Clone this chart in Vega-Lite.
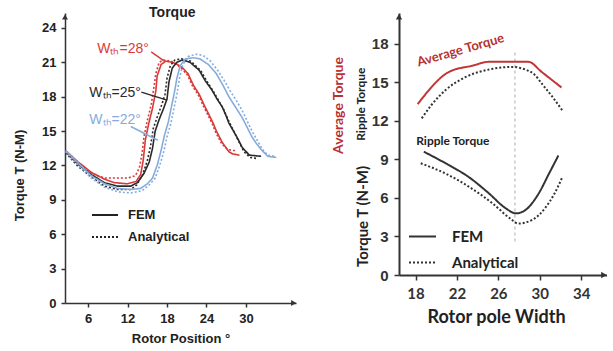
{
  "$schema": "https://vega.github.io/schema/vega-lite/v6.json",
  "padding": {"left": 13, "top": 6, "right": 0, "bottom": 0},
  "background": "white",
  "config": {"view": {"stroke": null}, "axis": {"grid": false, "labelOverlap": false}},
  "spacing": 103,
  "bounds": "flush",
  "resolve": {"scale": {"color": "independent", "strokeDash": "independent"}},
  "datasets": {
    "left": [
      {"x":2.6,"y":13.3,"w":"28","m":"FEM"},{"x":4.5,"y":12.3,"w":"28","m":"FEM"},{"x":6.5,"y":11.4,"w":"28","m":"FEM"},{"x":8.5,"y":10.8,"w":"28","m":"FEM"},{"x":10,"y":10.5,"w":"28","m":"FEM"},{"x":12,"y":10.4,"w":"28","m":"FEM"},{"x":13.3,"y":10.6,"w":"28","m":"FEM"},{"x":14.0,"y":11.2,"w":"28","m":"FEM"},{"x":14.4,"y":12.5,"w":"28","m":"FEM"},{"x":14.7,"y":14.2,"w":"28","m":"FEM"},{"x":15.2,"y":15.6,"w":"28","m":"FEM"},{"x":15.8,"y":17.0,"w":"28","m":"FEM"},{"x":16.3,"y":18.5,"w":"28","m":"FEM"},{"x":16.5,"y":19.8,"w":"28","m":"FEM"},{"x":17.1,"y":20.8,"w":"28","m":"FEM"},{"x":17.8,"y":21.1,"w":"28","m":"FEM"},{"x":18.8,"y":21.0,"w":"28","m":"FEM"},{"x":19.6,"y":20.8,"w":"28","m":"FEM"},{"x":20.4,"y":20.5,"w":"28","m":"FEM"},{"x":21.2,"y":20.0,"w":"28","m":"FEM"},{"x":22.0,"y":19.0,"w":"28","m":"FEM"},{"x":22.9,"y":18.2,"w":"28","m":"FEM"},{"x":23.7,"y":17.2,"w":"28","m":"FEM"},{"x":24.4,"y":16.4,"w":"28","m":"FEM"},{"x":25.0,"y":15.7,"w":"28","m":"FEM"},{"x":25.5,"y":15.0,"w":"28","m":"FEM"},{"x":26.4,"y":14.0,"w":"28","m":"FEM"},{"x":27.4,"y":13.2,"w":"28","m":"FEM"},{"x":28.0,"y":13.0,"w":"28","m":"FEM"},{"x":29.0,"y":12.9,"w":"28","m":"FEM"},
      {"x":2.6,"y":13.2,"w":"28","m":"Analytical"},{"x":4.5,"y":12.2,"w":"28","m":"Analytical"},{"x":6.5,"y":11.3,"w":"28","m":"Analytical"},{"x":8.5,"y":10.9,"w":"28","m":"Analytical"},{"x":10,"y":10.9,"w":"28","m":"Analytical"},{"x":12,"y":10.9,"w":"28","m":"Analytical"},{"x":13.2,"y":11.1,"w":"28","m":"Analytical"},{"x":13.8,"y":11.8,"w":"28","m":"Analytical"},{"x":14.2,"y":13.0,"w":"28","m":"Analytical"},{"x":14.5,"y":14.5,"w":"28","m":"Analytical"},{"x":15.0,"y":15.9,"w":"28","m":"Analytical"},{"x":15.6,"y":17.3,"w":"28","m":"Analytical"},{"x":16.0,"y":18.8,"w":"28","m":"Analytical"},{"x":16.3,"y":20.0,"w":"28","m":"Analytical"},{"x":16.8,"y":21.0,"w":"28","m":"Analytical"},{"x":17.5,"y":21.2,"w":"28","m":"Analytical"},{"x":18.6,"y":21.1,"w":"28","m":"Analytical"},{"x":19.5,"y":20.8,"w":"28","m":"Analytical"},{"x":20.3,"y":20.4,"w":"28","m":"Analytical"},{"x":21.1,"y":19.9,"w":"28","m":"Analytical"},{"x":21.9,"y":18.9,"w":"28","m":"Analytical"},{"x":22.8,"y":18.1,"w":"28","m":"Analytical"},{"x":23.6,"y":17.1,"w":"28","m":"Analytical"},{"x":24.3,"y":16.3,"w":"28","m":"Analytical"},{"x":24.9,"y":15.6,"w":"28","m":"Analytical"},{"x":25.4,"y":14.9,"w":"28","m":"Analytical"},{"x":26.3,"y":13.9,"w":"28","m":"Analytical"},{"x":27.2,"y":13.4,"w":"28","m":"Analytical"},{"x":28.0,"y":13.3,"w":"28","m":"Analytical"},{"x":28.6,"y":13.3,"w":"28","m":"Analytical"},
      {"x":2.6,"y":13.2,"w":"25","m":"FEM"},{"x":4.5,"y":12.1,"w":"25","m":"FEM"},{"x":6.5,"y":11.2,"w":"25","m":"FEM"},{"x":8.5,"y":10.5,"w":"25","m":"FEM"},{"x":10.5,"y":10.2,"w":"25","m":"FEM"},{"x":12.5,"y":10.2,"w":"25","m":"FEM"},{"x":13.5,"y":10.5,"w":"25","m":"FEM"},{"x":14.5,"y":11.3,"w":"25","m":"FEM"},{"x":15.3,"y":12.3,"w":"25","m":"FEM"},{"x":15.8,"y":13.5,"w":"25","m":"FEM"},{"x":16.2,"y":15.0,"w":"25","m":"FEM"},{"x":16.8,"y":16.0,"w":"25","m":"FEM"},{"x":17.5,"y":17.0,"w":"25","m":"FEM"},{"x":18.0,"y":17.8,"w":"25","m":"FEM"},{"x":18.3,"y":19.3,"w":"25","m":"FEM"},{"x":18.8,"y":20.5,"w":"25","m":"FEM"},{"x":19.5,"y":21.0,"w":"25","m":"FEM"},{"x":20.3,"y":21.2,"w":"25","m":"FEM"},{"x":21.5,"y":21.0,"w":"25","m":"FEM"},{"x":22.9,"y":20.3,"w":"25","m":"FEM"},{"x":23.8,"y":19.4,"w":"25","m":"FEM"},{"x":24.8,"y":18.6,"w":"25","m":"FEM"},{"x":25.6,"y":17.8,"w":"25","m":"FEM"},{"x":26.4,"y":17.1,"w":"25","m":"FEM"},{"x":27.0,"y":16.3,"w":"25","m":"FEM"},{"x":27.4,"y":15.7,"w":"25","m":"FEM"},{"x":28.0,"y":15.1,"w":"25","m":"FEM"},{"x":28.6,"y":14.5,"w":"25","m":"FEM"},{"x":29.4,"y":13.6,"w":"25","m":"FEM"},{"x":30.5,"y":12.9,"w":"25","m":"FEM"},{"x":32.3,"y":12.8,"w":"25","m":"FEM"},
      {"x":2.6,"y":13.1,"w":"25","m":"Analytical"},{"x":4.5,"y":11.9,"w":"25","m":"Analytical"},{"x":6.5,"y":11.0,"w":"25","m":"Analytical"},{"x":8.5,"y":10.2,"w":"25","m":"Analytical"},{"x":10.5,"y":9.9,"w":"25","m":"Analytical"},{"x":12.5,"y":9.9,"w":"25","m":"Analytical"},{"x":13.4,"y":10.3,"w":"25","m":"Analytical"},{"x":14.3,"y":11.2,"w":"25","m":"Analytical"},{"x":15.0,"y":12.4,"w":"25","m":"Analytical"},{"x":15.5,"y":13.7,"w":"25","m":"Analytical"},{"x":15.9,"y":15.2,"w":"25","m":"Analytical"},{"x":16.5,"y":16.2,"w":"25","m":"Analytical"},{"x":17.2,"y":17.3,"w":"25","m":"Analytical"},{"x":17.7,"y":18.2,"w":"25","m":"Analytical"},{"x":18.0,"y":19.6,"w":"25","m":"Analytical"},{"x":18.5,"y":20.7,"w":"25","m":"Analytical"},{"x":19.2,"y":21.2,"w":"25","m":"Analytical"},{"x":20.2,"y":21.3,"w":"25","m":"Analytical"},{"x":21.6,"y":21.1,"w":"25","m":"Analytical"},{"x":23.1,"y":20.3,"w":"25","m":"Analytical"},{"x":24.0,"y":19.4,"w":"25","m":"Analytical"},{"x":25.0,"y":18.5,"w":"25","m":"Analytical"},{"x":25.8,"y":17.7,"w":"25","m":"Analytical"},{"x":26.6,"y":16.9,"w":"25","m":"Analytical"},{"x":27.2,"y":16.1,"w":"25","m":"Analytical"},{"x":27.7,"y":15.5,"w":"25","m":"Analytical"},{"x":28.3,"y":14.8,"w":"25","m":"Analytical"},{"x":28.9,"y":14.1,"w":"25","m":"Analytical"},{"x":29.7,"y":13.2,"w":"25","m":"Analytical"},{"x":30.6,"y":12.7,"w":"25","m":"Analytical"},{"x":31.7,"y":12.6,"w":"25","m":"Analytical"},
      {"x":2.6,"y":13.3,"w":"22","m":"FEM"},{"x":4.5,"y":12.2,"w":"22","m":"FEM"},{"x":6.5,"y":11.1,"w":"22","m":"FEM"},{"x":8.5,"y":10.4,"w":"22","m":"FEM"},{"x":10.5,"y":10.0,"w":"22","m":"FEM"},{"x":12.5,"y":9.9,"w":"22","m":"FEM"},{"x":14.0,"y":10.0,"w":"22","m":"FEM"},{"x":15.0,"y":10.4,"w":"22","m":"FEM"},{"x":15.8,"y":10.9,"w":"22","m":"FEM"},{"x":16.5,"y":12.0,"w":"22","m":"FEM"},{"x":17.1,"y":13.3,"w":"22","m":"FEM"},{"x":17.6,"y":14.6,"w":"22","m":"FEM"},{"x":18.2,"y":15.8,"w":"22","m":"FEM"},{"x":18.7,"y":17.2,"w":"22","m":"FEM"},{"x":19.1,"y":18.3,"w":"22","m":"FEM"},{"x":19.5,"y":19.6,"w":"22","m":"FEM"},{"x":20.0,"y":20.7,"w":"22","m":"FEM"},{"x":20.8,"y":21.3,"w":"22","m":"FEM"},{"x":22.0,"y":21.4,"w":"22","m":"FEM"},{"x":23.0,"y":21.3,"w":"22","m":"FEM"},{"x":24.3,"y":20.8,"w":"22","m":"FEM"},{"x":25.5,"y":20.0,"w":"22","m":"FEM"},{"x":26.5,"y":19.0,"w":"22","m":"FEM"},{"x":27.4,"y":18.0,"w":"22","m":"FEM"},{"x":28.4,"y":17.1,"w":"22","m":"FEM"},{"x":29.4,"y":16.2,"w":"22","m":"FEM"},{"x":30.2,"y":15.3,"w":"22","m":"FEM"},{"x":30.9,"y":14.5,"w":"22","m":"FEM"},{"x":31.6,"y":13.9,"w":"22","m":"FEM"},{"x":32.3,"y":13.4,"w":"22","m":"FEM"},{"x":33.3,"y":12.8,"w":"22","m":"FEM"},{"x":34.6,"y":12.7,"w":"22","m":"FEM"},
      {"x":2.6,"y":13.2,"w":"22","m":"Analytical"},{"x":4.5,"y":12.0,"w":"22","m":"Analytical"},{"x":6.5,"y":10.9,"w":"22","m":"Analytical"},{"x":8.5,"y":10.1,"w":"22","m":"Analytical"},{"x":10.5,"y":9.7,"w":"22","m":"Analytical"},{"x":12.5,"y":9.6,"w":"22","m":"Analytical"},{"x":14.2,"y":9.8,"w":"22","m":"Analytical"},{"x":15.3,"y":10.3,"w":"22","m":"Analytical"},{"x":16.2,"y":10.9,"w":"22","m":"Analytical"},{"x":16.9,"y":12.0,"w":"22","m":"Analytical"},{"x":17.5,"y":13.2,"w":"22","m":"Analytical"},{"x":18.0,"y":14.5,"w":"22","m":"Analytical"},{"x":18.6,"y":15.7,"w":"22","m":"Analytical"},{"x":19.1,"y":17.1,"w":"22","m":"Analytical"},{"x":19.5,"y":18.2,"w":"22","m":"Analytical"},{"x":19.9,"y":19.6,"w":"22","m":"Analytical"},{"x":20.4,"y":20.8,"w":"22","m":"Analytical"},{"x":21.2,"y":21.5,"w":"22","m":"Analytical"},{"x":22.5,"y":21.7,"w":"22","m":"Analytical"},{"x":23.5,"y":21.6,"w":"22","m":"Analytical"},{"x":24.6,"y":21.1,"w":"22","m":"Analytical"},{"x":25.7,"y":20.3,"w":"22","m":"Analytical"},{"x":26.7,"y":19.4,"w":"22","m":"Analytical"},{"x":27.6,"y":18.5,"w":"22","m":"Analytical"},{"x":28.6,"y":17.6,"w":"22","m":"Analytical"},{"x":29.6,"y":16.6,"w":"22","m":"Analytical"},{"x":30.4,"y":15.6,"w":"22","m":"Analytical"},{"x":31.1,"y":14.8,"w":"22","m":"Analytical"},{"x":31.8,"y":14.1,"w":"22","m":"Analytical"},{"x":32.5,"y":13.4,"w":"22","m":"Analytical"},{"x":33.3,"y":12.9,"w":"22","m":"Analytical"},{"x":34.3,"y":12.8,"w":"22","m":"Analytical"}
    ],
    "leftLabels": [
      {"x":7.4,"y":22.2,"label":"Wₜₕ=28°","w":"28","x2":15.6,"y2":21.9,"lx":17.6,"ly":21.1},
      {"x":6.2,"y":18.3,"label":"Wₜₕ=25°","w":"25","x2":14.1,"y2":18.4,"lx":18.0,"ly":17.7},
      {"x":6.2,"y":16.0,"label":"Wₜₕ=22°","w":"22","x2":12.5,"y2":15.4,"lx":16.6,"ly":14.2}
    ],
    "leftTitle": [{"x":18.8,"y":25.3,"label":"Torque"}],
    "leftArrows": [{"x":2.5,"y":24.95,"dir":"up"},{"x":37.25,"y":0,"dir":"right"}],
    "right": [
      {"x":18.2,"y":13.3,"s":"avgFEM","m":"FEM"},{"x":21.2,"y":15.8,"s":"avgFEM","m":"FEM"},{"x":23.5,"y":16.3,"s":"avgFEM","m":"FEM"},{"x":25.1,"y":16.6,"s":"avgFEM","m":"FEM"},{"x":28.9,"y":16.6,"s":"avgFEM","m":"FEM"},{"x":30.2,"y":15.8,"s":"avgFEM","m":"FEM"},{"x":32.1,"y":14.6,"s":"avgFEM","m":"FEM"},
      {"x":18.6,"y":12.2,"s":"avgAna","m":"Analytical"},{"x":19.5,"y":13.2,"s":"avgAna","m":"Analytical"},{"x":20.9,"y":14.4,"s":"avgAna","m":"Analytical"},{"x":22.8,"y":15.4,"s":"avgAna","m":"Analytical"},{"x":25.1,"y":16.0,"s":"avgAna","m":"Analytical"},{"x":27.3,"y":16.2,"s":"avgAna","m":"Analytical"},{"x":28.6,"y":16.0,"s":"avgAna","m":"Analytical"},{"x":29.5,"y":15.6,"s":"avgAna","m":"Analytical"},{"x":30.2,"y":14.9,"s":"avgAna","m":"Analytical"},{"x":31.2,"y":13.9,"s":"avgAna","m":"Analytical"},{"x":32.2,"y":12.8,"s":"avgAna","m":"Analytical"},
      {"x":18.8,"y":9.6,"s":"ripFEM","m":"FEM"},{"x":20.9,"y":8.7,"s":"ripFEM","m":"FEM"},{"x":23.1,"y":7.65,"s":"ripFEM","m":"FEM"},{"x":25.1,"y":6.35,"s":"ripFEM","m":"FEM"},{"x":26.7,"y":5.2,"s":"ripFEM","m":"FEM"},{"x":27.7,"y":4.8,"s":"ripFEM","m":"FEM"},{"x":28.6,"y":5.05,"s":"ripFEM","m":"FEM"},{"x":29.9,"y":6.35,"s":"ripFEM","m":"FEM"},{"x":30.9,"y":7.9,"s":"ripFEM","m":"FEM"},{"x":31.8,"y":9.3,"s":"ripFEM","m":"FEM"},
      {"x":18.5,"y":8.7,"s":"ripAna","m":"Analytical"},{"x":20.9,"y":7.9,"s":"ripAna","m":"Analytical"},{"x":23.1,"y":6.9,"s":"ripAna","m":"Analytical"},{"x":25.4,"y":5.6,"s":"ripAna","m":"Analytical"},{"x":27.3,"y":4.3,"s":"ripAna","m":"Analytical"},{"x":27.9,"y":4.0,"s":"ripAna","m":"Analytical"},{"x":29.3,"y":4.3,"s":"ripAna","m":"Analytical"},{"x":30.6,"y":5.3,"s":"ripAna","m":"Analytical"},{"x":31.4,"y":6.3,"s":"ripAna","m":"Analytical"},{"x":32.2,"y":7.65,"s":"ripAna","m":"Analytical"}
    ],
    "rightVline": [{"x":27.6,"y":2.6,"y2":17.5}],
    "rightAvgLabel": [{"x":22.35,"y":17.5,"label":"Average Torque"}],
    "rightRipLabel": [{"x":21.6,"y":10.4,"label":"Ripple Torque"}],
    "rightSideAvg": [{"x":10.6,"y":13.2,"label":"Average Torque"}],
    "rightSideRip": [{"x":12.7,"y":13.3,"label":"Ripple Torque"}],
    "rightArrows": [{"x":16.4,"y":20.1,"dir":"up"},{"x":36.2,"y":0,"dir":"right"}]
  },
  "hconcat": [
    {
      "width": 231,
      "height": 290,
      "layer": [
        {
          "data": {"name": "left"},
          "mark": {"type": "line", "strokeWidth": 1.6},
          "encoding": {
            "x": {"field": "x", "type": "quantitative", "scale": {"domain": [2.5, 37.6], "nice": false, "zero": false},
              "axis": {"title": "Rotor Position °", "values": [6, 12, 18, 24, 30], "tickCount": 20, "labelOverlap": false, "domainColor": "#333", "domainWidth": 1.5, "tickColor": "#333", "tickWidth": 1.5, "tickSize": 4, "labelPadding": 5, "labelFont": "Liberation Sans", "labelFontSize": 13, "labelFontWeight": "bold", "labelColor": "#222", "titleFont": "Liberation Sans", "titleFontSize": 13, "titleFontWeight": "bold", "titleColor": "#222", "titlePadding": 7}},
            "y": {"field": "y", "type": "quantitative", "scale": {"domain": [0, 25.3], "nice": false, "zero": false},
              "axis": {"title": "Torque T (N-M)", "values": [0, 3, 6, 9, 12, 15, 18, 21, 24], "tickCount": 20, "labelOverlap": false, "domainColor": "#333", "domainWidth": 1.5, "tickColor": "#333", "tickWidth": 1.5, "tickSize": 4, "labelPadding": 5, "labelFont": "Liberation Sans", "labelFontSize": 13, "labelFontWeight": "bold", "labelColor": "#222", "titleFont": "Liberation Sans", "titleFontSize": 13, "titleFontWeight": "bold", "titleColor": "#222", "titleBaseline": "middle", "titleX": -46, "titleY": 162}},
            "color": {"field": "w", "type": "nominal", "scale": {"domain": ["28", "25", "22"], "range": ["#d83a3a", "#2a2a2a", "#86acdc"]}, "legend": null},
            "strokeDash": {"field": "m", "type": "nominal", "scale": {"domain": ["FEM", "Analytical"], "range": [[1, 0], [2, 2]]},
              "legend": {"title": null, "orient": "none", "legendX": 26, "legendY": 188, "symbolType": "stroke", "symbolSize": 676, "symbolStrokeWidth": 2, "symbolStrokeColor": "#222", "labelFont": "Liberation Sans", "labelFontSize": 13, "labelFontWeight": "bold", "labelColor": "#222", "labelOffset": 9, "rowPadding": 1}}
          }
        },
        {
          "data": {"name": "leftLabels"},
          "mark": {"type": "rule", "strokeWidth": 1.5},
          "encoding": {
            "x": {"field": "x2", "type": "quantitative"},
            "y": {"field": "y2", "type": "quantitative"},
            "x2": {"field": "lx"},
            "y2": {"field": "ly"},
            "color": {"field": "w", "type": "nominal", "legend": null}
          }
        },
        {
          "data": {"name": "leftLabels"},
          "mark": {"type": "text", "align": "left", "baseline": "middle", "font": "Liberation Sans", "fontSize": 14},
          "encoding": {
            "x": {"field": "x", "type": "quantitative"},
            "y": {"field": "y", "type": "quantitative"},
            "text": {"field": "label"},
            "color": {"field": "w", "type": "nominal", "legend": null}
          }
        },
        {
          "data": {"name": "leftTitle"},
          "mark": {"type": "text", "align": "center", "baseline": "middle", "font": "Liberation Sans", "fontSize": 14, "fontWeight": "bold", "color": "#222"},
          "encoding": {
            "x": {"field": "x", "type": "quantitative"},
            "y": {"field": "y", "type": "quantitative"},
            "text": {"field": "label"}
          }
        },
        {
          "data": {"name": "leftArrows"},
          "transform": [{"filter": "datum.dir === 'up'"}],
          "mark": {"type": "point", "shape": "triangle-up", "filled": true, "size": 35, "color": "#333", "opacity": 1},
          "encoding": {
            "x": {"field": "x", "type": "quantitative"},
            "y": {"field": "y", "type": "quantitative"}
          }
        },
        {
          "data": {"name": "leftArrows"},
          "transform": [{"filter": "datum.dir === 'right'"}],
          "mark": {"type": "point", "shape": "triangle-right", "filled": true, "size": 35, "color": "#333", "opacity": 1},
          "encoding": {
            "x": {"field": "x", "type": "quantitative"},
            "y": {"field": "y", "type": "quantitative"}
          }
        }
      ]
    },
    {
      "width": 208,
      "height": 262,
      "layer": [
        {
          "data": {"name": "rightVline"},
          "mark": {"type": "rule", "strokeWidth": 1.5, "strokeDash": [3, 3], "color": "#c8c8c8"},
          "encoding": {
            "x": {"field": "x", "type": "quantitative"},
            "y": {"field": "y", "type": "quantitative"},
            "y2": {"field": "y2"}
          }
        },
        {
          "data": {"name": "right"},
          "mark": {"type": "line", "strokeWidth": 2, "interpolate": "monotone"},
          "encoding": {
            "x": {"field": "x", "type": "quantitative", "scale": {"domain": [16.4, 36.5], "nice": false, "zero": false},
              "axis": {"title": "Rotor pole Width", "values": [18, 22, 26, 30, 34], "tickCount": 20, "labelOverlap": false, "domainColor": "#333", "domainWidth": 2, "tickColor": "#333", "tickWidth": 1.5, "tickSize": 5, "labelPadding": 6, "labelFont": "Lato", "labelFontSize": 15, "labelFontWeight": "bold", "labelColor": "#333", "titleFont": "Lato", "titleFontSize": 18, "titleFontWeight": "bold", "titleColor": "#222", "titlePadding": 7, "titleX": 97}},
            "y": {"field": "y", "type": "quantitative", "scale": {"domain": [0, 20.4], "nice": false, "zero": false},
              "axis": {"title": "Torque T (N-M)", "values": [0, 3, 6, 9, 12, 15, 18], "tickCount": 20, "labelOverlap": false, "domainColor": "#333", "domainWidth": 2, "tickColor": "#333", "tickWidth": 1.5, "tickSize": 5, "labelPadding": 6, "labelFont": "Liberation Sans", "labelFontSize": 15, "labelFontWeight": "bold", "labelColor": "#333", "titleFont": "Lato", "titleFontSize": 15, "titleFontWeight": "bold", "titleColor": "#222", "titleBaseline": "middle", "titleX": -37, "titleY": 203}},
            "color": {"field": "s", "type": "nominal", "scale": {"domain": ["avgFEM", "avgAna", "ripFEM", "ripAna"], "range": ["#c03535", "#333333", "#333333", "#333333"]}, "legend": null},
            "strokeDash": {"field": "m", "type": "nominal", "scale": {"domain": ["FEM", "Analytical"], "range": [[1, 0], [2, 2]]},
              "legend": {"title": null, "orient": "none", "legendX": 9, "legendY": 209, "symbolType": "stroke", "symbolSize": 729, "symbolStrokeWidth": 2, "symbolStrokeColor": "#333", "labelFont": "Lato", "labelFontSize": 15, "labelFontWeight": "bold", "labelColor": "#222", "labelOffset": 15, "rowPadding": 3}}
          }
        },
        {
          "data": {"name": "rightAvgLabel"},
          "mark": {"type": "text", "align": "center", "baseline": "middle", "angle": -16, "font": "Lato", "fontSize": 13, "fontWeight": "bold", "color": "#b83030"},
          "encoding": {
            "x": {"field": "x", "type": "quantitative"},
            "y": {"field": "y", "type": "quantitative"},
            "text": {"field": "label"}
          }
        },
        {
          "data": {"name": "rightRipLabel"},
          "mark": {"type": "text", "align": "center", "baseline": "middle", "font": "Lato", "fontSize": 12, "fontWeight": "bold", "color": "#222"},
          "encoding": {
            "x": {"field": "x", "type": "quantitative"},
            "y": {"field": "y", "type": "quantitative"},
            "text": {"field": "label"}
          }
        },
        {
          "data": {"name": "rightSideAvg"},
          "mark": {"type": "text", "align": "center", "baseline": "middle", "angle": -90, "font": "Lato", "fontSize": 14, "fontWeight": "bold", "color": "#b83030"},
          "encoding": {
            "x": {"field": "x", "type": "quantitative"},
            "y": {"field": "y", "type": "quantitative"},
            "text": {"field": "label"}
          }
        },
        {
          "data": {"name": "rightSideRip"},
          "mark": {"type": "text", "align": "center", "baseline": "middle", "angle": -90, "font": "Lato", "fontSize": 12, "fontWeight": "bold", "color": "#222"},
          "encoding": {
            "x": {"field": "x", "type": "quantitative"},
            "y": {"field": "y", "type": "quantitative"},
            "text": {"field": "label"}
          }
        },
        {
          "data": {"name": "rightArrows"},
          "transform": [{"filter": "datum.dir === 'up'"}],
          "mark": {"type": "point", "shape": "triangle-up", "filled": true, "size": 40, "color": "#333", "opacity": 1},
          "encoding": {
            "x": {"field": "x", "type": "quantitative"},
            "y": {"field": "y", "type": "quantitative"}
          }
        },
        {
          "data": {"name": "rightArrows"},
          "transform": [{"filter": "datum.dir === 'right'"}],
          "mark": {"type": "point", "shape": "triangle-right", "filled": true, "size": 40, "color": "#333", "opacity": 1},
          "encoding": {
            "x": {"field": "x", "type": "quantitative"},
            "y": {"field": "y", "type": "quantitative"}
          }
        }
      ]
    }
  ]
}
